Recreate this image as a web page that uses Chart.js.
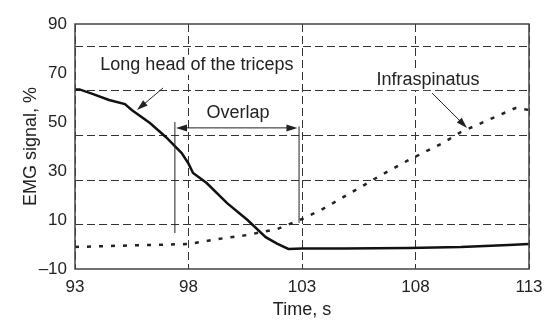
<!DOCTYPE html>
<html>
<head>
<meta charset="utf-8">
<script src="https://cdn.jsdelivr.net/npm/chart.js@4/dist/chart.umd.min.js"></script>
<style>
  body { margin: 0; background: #fff; }
  #wrap { width: 555px; height: 324px; }
</style>
</head>
<body>
<div id="wrap"><canvas id="emg"></canvas></div>
<script>
// time axis, seconds
const tricepsTime = [93, 93.2, 93.8, 94.5, 95.2, 95.5, 96.3, 97.0, 97.7, 98.0, 98.2, 98.8, 99.7, 100.6, 101.4, 101.9, 102.4, 103, 104.8, 107.7, 110, 112.1, 113];
const tricepsEmg = [63.3, 63.3, 61.4, 59, 57.3, 54.9, 49.6, 43.9, 37.3, 33, 29.2, 25.1, 16.9, 10, 3, 0.4, -1.8, -1.6, -1.6, -1.4, -1, -0.2, 0.2];
const infraTime = [93, 95, 98, 99.5, 100.6, 101.9, 103, 104, 105.5, 106.5, 107.7, 109.2, 110, 111.2, 112.4, 113];
const infraEmg = [-1, -0.5, 0.2, 2.5, 3.9, 6.3, 10.4, 14.9, 23, 28.4, 34.5, 41.4, 45.9, 50.8, 55.7, 54.9];
// tick labels and the (offset) dashed grid rows of the original figure
const yLabels = [-10, 10, 30, 50, 70, 90];
const yGridRows = [8, 26.3, 44.5, 62.7, 81];
const xTicks = [93, 98, 103, 108, 113];

const FONT = "'Liberation Sans', Arial, sans-serif";

const toPts = (xs, ys) => xs.map((x, i) => ({x: x, y: ys[i]}));

//arrows and text, placed in data units
const notes = {
    texts: [
        {x: 98.37, y: 73.3, text: "Long head of the triceps"},
        {x: 100.18, y: 53.7, text: "Overlap"},
        {x: 108.55, y: 67.1, text: "Infraspinatus"}
    ],
    arrows: [
        {x1: 96.88, y1: 63.9, x2: 95.73, y2: 54.9},
        {x1: 108.73, y1: 61.8, x2: 110.27, y2: 47.6},
        {x1: 100.1, y1: 47.6, x2: 97.45, y2: 47.6},
        {x1: 100.1, y1: 47.6, x2: 102.8, y2: 47.6}
    ],
    lines: [
        {x1: 97.4, y1: 50, x2: 97.4, y2: 4.7},
        {x1: 102.87, y1: 48.2, x2: 102.87, y2: 8.8}
    ]
};

const annotate = {
    id: "annotate",
    afterDatasetsDraw(chart) {
        const ctx = chart.ctx;
        const xs = chart.scales.x, ys = chart.scales.y;
        const ca = chart.chartArea;
        ctx.save();
        //frame
        ctx.strokeStyle = "#444";
        ctx.lineWidth = 1.5;
        ctx.strokeRect(ca.left, ca.top, ca.right - ca.left, ca.bottom - ca.top);

        ctx.strokeStyle = "#222";
        ctx.fillStyle = "#222";
        ctx.lineWidth = 1;
        for (let l of notes.lines) {
            ctx.beginPath();
            ctx.moveTo(xs.getPixelForValue(l.x1), ys.getPixelForValue(l.y1));
            ctx.lineTo(xs.getPixelForValue(l.x2), ys.getPixelForValue(l.y2));
            ctx.stroke();
        }
        for (let a of notes.arrows) {
            const x1 = xs.getPixelForValue(a.x1), y1 = ys.getPixelForValue(a.y1);
            const x2 = xs.getPixelForValue(a.x2), y2 = ys.getPixelForValue(a.y2);
            const ang = Math.atan2(y2 - y1, x2 - x1);
            const len = 11, half = 3.5;
            ctx.beginPath();
            ctx.moveTo(x1, y1);
            ctx.lineTo(x2 - Math.cos(ang) * len * 0.8, y2 - Math.sin(ang) * len * 0.8);
            ctx.stroke();
            ctx.beginPath();
            ctx.moveTo(x2, y2);
            ctx.lineTo(x2 - Math.cos(ang) * len - Math.sin(ang) * half, y2 - Math.sin(ang) * len + Math.cos(ang) * half);
            ctx.lineTo(x2 - Math.cos(ang) * len + Math.sin(ang) * half, y2 - Math.sin(ang) * len - Math.cos(ang) * half);
            ctx.closePath();
            ctx.fill();
        }
        ctx.font = "18px " + FONT;
        ctx.textAlign = "center";
        ctx.textBaseline = "middle";
        for (let t of notes.texts) {
            const px = xs.getPixelForValue(t.x), py = ys.getPixelForValue(t.y);
            const w = ctx.measureText(t.text).width;
            ctx.fillStyle = "#fff";
            ctx.fillRect(px - w / 2 - 3, py - 10, w + 6, 20);
            ctx.fillStyle = "#222";
            ctx.fillText(t.text, px, py);
        }
        ctx.restore();
    }
};

new Chart(document.getElementById("emg"), {
    type: "line",
    plugins: [annotate],
    data: {
        datasets: [
            {
                label: "Long head of the triceps",
                data: toPts(tricepsTime, tricepsEmg),
                borderColor: "#111",
                borderWidth: 2.5,
                pointRadius: 0,
                tension: 0
            },
            {
                label: "Infraspinatus",
                data: toPts(infraTime, infraEmg),
                borderColor: "#222",
                borderWidth: 2.5,
                borderDash: [4, 8],
                pointRadius: 0,
                tension: 0
            }
        ]
    },
    options: {
        responsive: true,
        maintainAspectRatio: false,
        animation: false,
        layout: { padding: { top: 24, right: 26, left: 0, bottom: 0 } },
        plugins: {
            legend: { display: false },
            tooltip: { enabled: false }
        },
        scales: {
            x: {
                type: "linear",
                min: 93,
                max: 113,
                afterBuildTicks: (s) => { s.ticks = xTicks.map(v => ({value: v})); },
                afterFit: (s) => { s.height = 55; },
                ticks: { color: "#222", font: { family: FONT, size: 17 }, padding: 8 },
                grid: { color: "#333", lineWidth: 1, drawTicks: false },
                border: { display: false, dash: [8, 4] },
                title: { display: true, text: "Time, s", color: "#222", font: { family: FONT, size: 18 }, padding: { top: 0, bottom: 3 } }
            },
            y: {
                min: -10,
                max: 90,
                afterBuildTicks: (s) => { s.ticks = yLabels.map(v => ({value: v})); },
                afterFit: (s) => { s.width = 75; },
                ticks: {
                    color: "#222",
                    font: { family: FONT, size: 17 },
                    padding: 0,
                    callback: (v) => v < 0 ? "\u2013" + Math.abs(v) : v
                },
                grid: { display: false },
                border: { display: false },
                title: { display: true, text: "EMG signal, %", color: "#222", font: { family: FONT, size: 18 }, padding: { top: 20, bottom: 0 } }
            },
            yg: {
                position: "right",
                min: -10,
                max: 90,
                afterBuildTicks: (s) => { s.ticks = yGridRows.map(v => ({value: v})); },
                afterFit: (s) => { s.width = 0; },
                ticks: { display: false },
                grid: { color: "#333", lineWidth: 1, drawTicks: false },
                border: { display: false, dash: [8, 4] }
            }
        }
    }
});
</script>
</body>
</html>
